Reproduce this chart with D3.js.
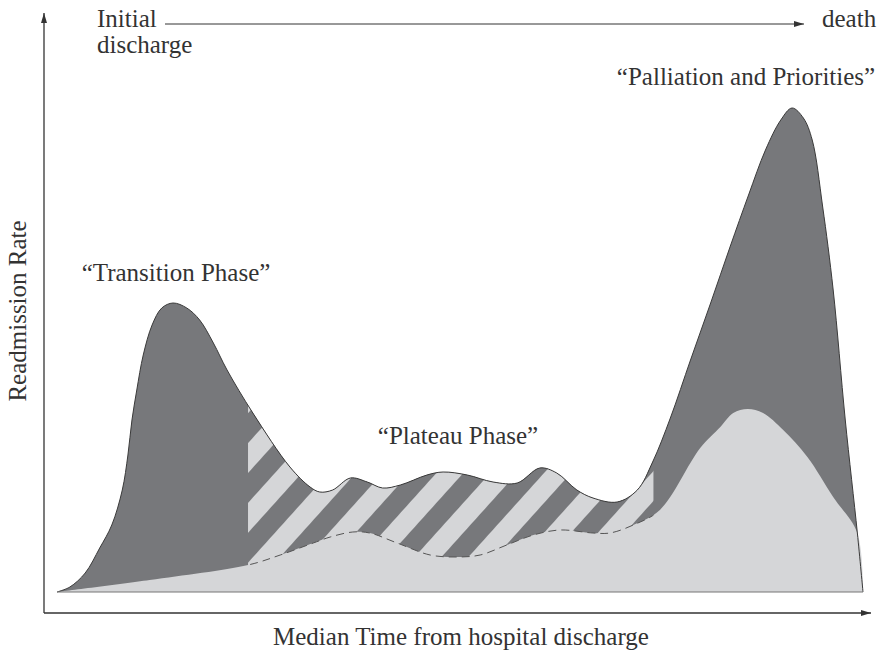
<!DOCTYPE html>
<html>
<head>
<meta charset="utf-8">
<script src="https://cdn.jsdelivr.net/npm/d3@7"></script>
<style>
  body { margin: 0; background: #fff; }
  text { font-family: "Liberation Serif", "Times New Roman", serif; fill: #333; }
</style>
</head>
<body>
<div id="chart"></div>
<script>

// total readmission rate (outer dark curve)
var totalTime = [0, 1.6, 3.5, 5.3, 6.8, 8.1, 8.8, 9.3, 9.9, 10.7, 11.8, 13.0, 14.4, 16.1, 17.7, 19.4, 21.1,
  24.3, 28.9, 31.4, 32.6, 34.2, 36.4, 38.5, 40.4, 42.6, 45.9, 47.9, 50.9, 54.1, 57.1, 59.9, 62.0,
  64.5, 66.5, 69.5, 72.0, 73.9, 76.1, 78.6, 81.1, 83.5, 85.8, 87.9, 89.8, 91.2, 92.6, 93.7, 95.0,
  96.3, 97.8, 99.3, 100]
var totalRate = [0, 1, 3.8, 8.8, 13.4, 20.4, 27.4, 34.4, 40.4, 47.4, 53.4, 56.8, 57.8, 56.8, 54.4, 49.8, 44.4,
  35.8, 25, 21, 20, 20.4, 22.8, 22, 20.8, 21.4, 23.4, 24, 23.4, 22, 21.8, 24.8, 23.8,
  20.4, 18.8, 18, 20.4, 26, 34.8, 46.4, 57.8, 69, 79.4, 88.4, 94.4, 96.8, 94.8, 90.4, 77,
  60.4, 34.4, 11.8, 0]

// baseline readmission rate (inner light curve)
var baseTime = [0, 11.5, 23.7, 27.7, 31.8, 33.9, 36.7, 38.8, 42.2, 46.3, 49.6, 52.5, 55.8, 59.1,
  62.4, 66.5, 68.6, 71.5, 74.8, 79.8, 82.3, 83.9, 85.7, 87.6, 90.1, 93.1, 96.3, 99.3, 100]
var baseRate = [0, 2.4, 5.4, 7.4, 9.8, 11, 12, 11.8, 9.8, 7.4, 7, 7.4, 9.4, 11.4,
  12.4, 11.8, 11.8, 13.4, 16.4, 28.8, 33, 35.8, 36.6, 35.8, 32.4, 27, 19, 11.8, 0]

// time span of the plateau phase (hatched)
var plateauSpan = [23.7, 74.0]

var phaseLabels = ["\u201cTransition Phase\u201d", "\u201cPlateau Phase\u201d", "\u201cPalliation and Priorities\u201d"]

var width = 877
var height = 657
var dark = "#77787b"
var light = "#d5d6d8"
var ink = "#333"
var fontSize = "25px"

var total = totalTime.map(function(t, i) { return { t: t, r: totalRate[i] } })
var base = baseTime.map(function(t, i) { return { t: t, r: baseRate[i] } })

var svg = d3.select("#chart")
  .append("svg")
    .attr("width", width)
    .attr("height", height)

var x = d3.scaleLinear().domain([0, 100]).range([57, 863])
var y = d3.scaleLinear().domain([0, 100]).range([592, 92])

var defs = svg.append("defs")

// diagonal stripes for the plateau phase
var stripe = 40
var pat = defs.append("pattern")
  .attr("id", "stripes")
  .attr("patternUnits", "userSpaceOnUse")
  .attr("width", stripe)
  .attr("height", stripe)
  .attr("patternTransform", "translate(" + x(plateauSpan[0]) + "," + y(23.8) + ") rotate(42)")
pat.append("rect").attr("width", stripe).attr("height", stripe).attr("fill", light)
pat.append("rect").attr("width", stripe / 2).attr("height", stripe).attr("fill", dark)

defs.append("clipPath")
  .attr("id", "plateau")
  .append("rect")
    .attr("x", x(plateauSpan[0]))
    .attr("y", 0)
    .attr("width", x(plateauSpan[1]) - x(plateauSpan[0]))
    .attr("height", height)

defs.append("marker")
  .attr("id", "arrow")
  .attr("viewBox", "0 0 10 7")
  .attr("refX", 10)
  .attr("refY", 3.5)
  .attr("markerUnits", "userSpaceOnUse")
  .attr("markerWidth", 10)
  .attr("markerHeight", 7)
  .attr("orient", "auto")
  .append("path")
    .attr("d", "M0,0.5 L10,3.5 L0,6.5 Z")
    .attr("fill", ink)

var curve = d3.curveCatmullRom.alpha(0.5)

var area = d3.area()
  .x(d => x(d.t))
  .y0(y(0))
  .y1(d => y(d.r))
  .curve(curve)

var line = d3.line()
  .x(d => x(d.t))
  .y(d => y(d.r))
  .curve(curve)

// dark total area
svg.append("path")
  .attr("d", area(total))
  .attr("fill", dark)

// striped plateau
svg.append("path")
  .attr("d", area(total))
  .attr("fill", "url(#stripes)")
  .attr("clip-path", "url(#plateau)")

// light baseline area on top
svg.append("path")
  .attr("d", area(base))
  .attr("fill", light)

// dashed boundary through plateau
svg.append("path")
  .attr("d", line(base))
  .attr("fill", "none")
  .attr("stroke", "#555")
  .attr("stroke-width", 1)
  .attr("stroke-dasharray", "8,5")
  .attr("clip-path", "url(#plateau)")

// outline of the total curve
svg.append("path")
  .attr("d", line(total))
  .attr("fill", "none")
  .attr("stroke", "#3a3a3a")
  .attr("stroke-width", 1)

svg.append("line")
  .attr("x1", x(0)).attr("x2", x(100))
  .attr("y1", y(0)).attr("y2", y(0))
  .attr("stroke", "#777")
  .attr("stroke-width", 1)

// axes
svg.append("line")
  .attr("x1", 44).attr("y1", 613)
  .attr("x2", 44).attr("y2", 13)
  .attr("stroke", ink).attr("stroke-width", 1.3)
  .attr("marker-end", "url(#arrow)")

svg.append("line")
  .attr("x1", 44).attr("y1", 613)
  .attr("x2", 871).attr("y2", 613)
  .attr("stroke", ink).attr("stroke-width", 1.3)
  .attr("marker-end", "url(#arrow)")

// timeline arrow at top
svg.append("line")
  .attr("x1", 165).attr("y1", 24)
  .attr("x2", 804).attr("y2", 24)
  .attr("stroke", ink).attr("stroke-width", 1)
  .attr("marker-end", "url(#arrow)")

svg.append("text").attr("x", 97).attr("y", 27).style("font-size", fontSize).text("Initial")
svg.append("text").attr("x", 97).attr("y", 53).style("font-size", fontSize).text("discharge")
svg.append("text").attr("x", 822).attr("y", 27).style("font-size", fontSize).text("death")

// phase labels
svg.append("text").attr("x", 176).attr("y", 281).attr("text-anchor", "middle")
  .style("font-size", fontSize).text(phaseLabels[0])
svg.append("text").attr("x", 458).attr("y", 444).attr("text-anchor", "middle")
  .style("font-size", fontSize).text(phaseLabels[1])
svg.append("text").attr("x", 746).attr("y", 85).attr("text-anchor", "middle")
  .style("font-size", fontSize).text(phaseLabels[2])

// axis titles
svg.append("text")
  .attr("transform", "translate(26,311) rotate(-90)")
  .attr("text-anchor", "middle")
  .style("font-size", fontSize)
  .text("Readmission Rate")

svg.append("text")
  .attr("x", 461).attr("y", 645)
  .attr("text-anchor", "middle")
  .style("font-size", fontSize)
  .text("Median Time from hospital discharge")

</script>
</body>
</html>
